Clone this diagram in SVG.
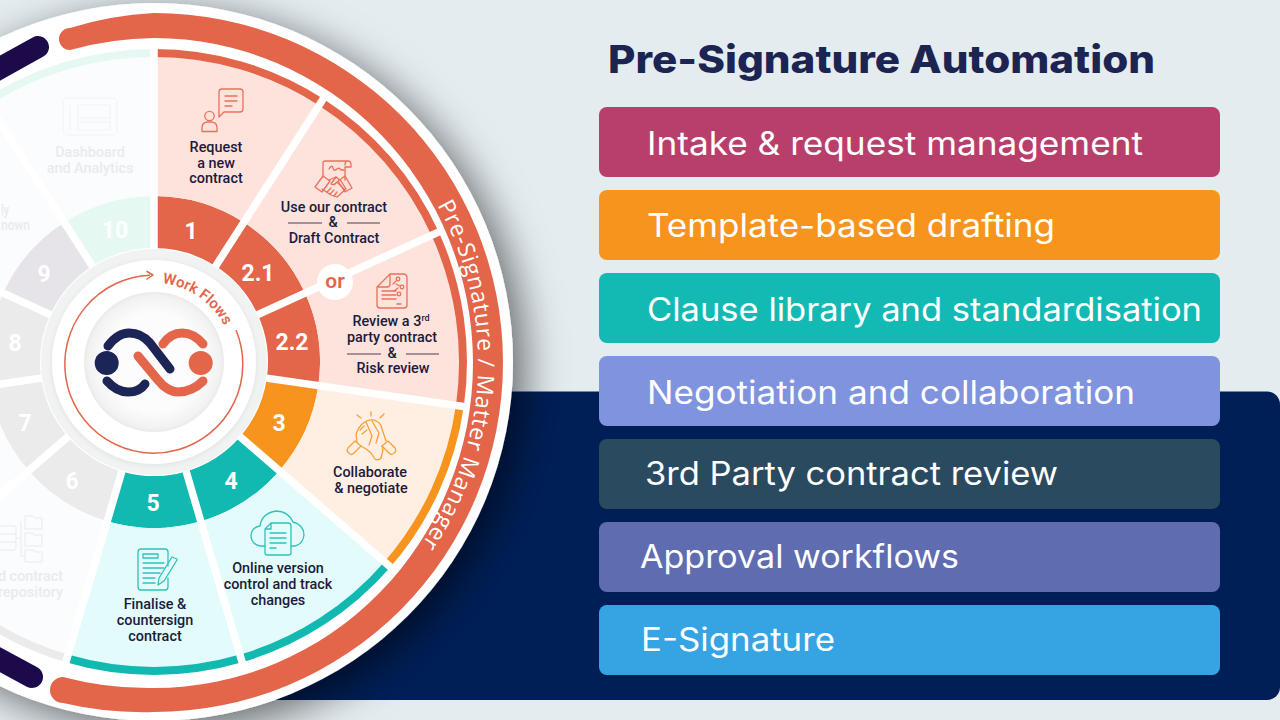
<svg xmlns="http://www.w3.org/2000/svg" width="1280" height="720" viewBox="0 0 1280 720">
<style>
.lbl{font-family:"Roboto","Liberation Sans",sans-serif;font-size:14.4px;font-weight:500;fill:#1c1b3c;text-anchor:middle}
.ghost{font-family:"Roboto","Liberation Sans",sans-serif;font-size:14.4px;font-weight:500;fill:#e9ebee}
.num{font-family:"Roboto","Liberation Sans",sans-serif;font-size:23px;font-weight:700;fill:#fff;text-anchor:middle}
.card{font-family:"Inter","Liberation Sans",sans-serif;font-size:32px;font-weight:400;fill:#fff}
.title{font-family:"Inter","Liberation Sans",sans-serif;font-size:38px;font-weight:800;fill:#1c2452}
.r{fill:#e3654a}.rl{fill:#fee2dc}
.o{fill:#f7941e}.ol{fill:#ffefe3}
.t{fill:#12b9b1}.tl{fill:#e3fbfb}
.g{fill:#ebebec}.gl{fill:#fbfcfd}.gm{fill:#e6e4e9}.gn{fill:#e6f8f2}
.ic{fill:none;stroke-width:1.3;stroke-linecap:round;stroke-linejoin:round}
.icr{stroke:#e9715a}.ico{stroke:#f7a03a}.ict{stroke:#30c2bb}.icg{stroke:#f0f8f6}.icy{stroke:#eeeff1}
.rule{stroke:#4a3f55;stroke-width:1.2}
.spoke{stroke:#fff;stroke-width:7.5}
</style>
<defs>
<filter id="wheelShadow" x="-20%" y="-20%" width="140%" height="140%"><feDropShadow dx="12" dy="10" stdDeviation="20" flood-color="#000" flood-opacity="0.55"/></filter>
<filter id="soft" x="-20%" y="-20%" width="140%" height="140%"><feDropShadow dx="0" dy="1" stdDeviation="2.500" flood-color="#000" flood-opacity="0.08"/></filter>
<radialGradient id="hub"><stop offset="0.7" stop-color="#fcfcfc"/><stop offset="0.94" stop-color="#f2f2f2"/><stop offset="1" stop-color="#eaeaea"/></radialGradient>
<path id="ringText" d="M437.3 205 A323 323 0 0 1 419.6 547.3"/>
<path id="flowText" d="M162.300 283.400 A79 79 0 0 1 233 362"/>
</defs>

<rect width="1280" height="720" fill="#e4ecf0"/>
<rect x="200" y="391.500" width="1080" height="308.500" rx="13" fill="#001f57"/>

<g id="wheel">
<circle cx="154" cy="362" r="359" fill="#fff" filter="url(#wheelShadow)"/>
<path d="M70 28 A340 340 0 0 1 154 13 A349 349.500 0 0 1 503 362.500 A349 349.500 0 0 1 154 712 A350 350 0 0 1 63 703 A13 13 0 0 1 63 677 A328 328 0 0 0 154 688 A319 325 0 0 0 473 363 A319 325 0 0 0 154 38 A328 328 0 0 0 70 50 A11 11 0 0 1 70 28 Z" fill="#e3654a"/>
<path d="M-5 71 L38 47 M-5 657 L32 677" stroke="#1c0a4a" stroke-width="22" stroke-linecap="round" fill="none"/>
</g>

<g id="node-1" transform="translate(154 362)">
<path class="r" d="M0 -114V-166A166 166 0 0 1 89.700 -139.700L61.600 -95.900A114 114 0 0 0 0 -114Z"/>
<path class="rl" d="M0 -166V-305A305 305 0 0 1 164.900 -256.600L89.700 -139.700A166 166 0 0 0 0 -166Z"/>
<path class="r" d="M0 -305V-313A313 313 0 0 1 169.200 -263.300L164.900 -256.600A305 305 0 0 0 0 -305Z"/>
</g>
<g id="node-2-1" transform="translate(154 362)">
<path class="r" d="M61.600 -95.900L89.700 -139.700A166 166 0 0 1 151 -69L103.700 -47.400A114 114 0 0 0 61.600 -95.900Z"/>
<path class="rl" d="M89.700 -139.700L164.900 -256.600A305 305 0 0 1 277.400 -126.700L151 -69A166 166 0 0 0 89.700 -139.700Z"/>
<path class="r" d="M164.900 -256.600L169.200 -263.300A313 313 0 0 1 284.700 -130L277.400 -126.700A305 305 0 0 0 164.900 -256.600Z"/>
</g>
<g id="node-2-2" transform="translate(154 362)">
<path class="r" d="M103.700 -47.400L151 -69A166 166 0 0 1 164.300 23.600L112.800 16.200A114 114 0 0 0 103.700 -47.400Z"/>
<path class="rl" d="M151 -69L277.400 -126.700A305 305 0 0 1 301.900 43.400L164.300 23.600A166 166 0 0 0 151 -69Z"/>
<path class="r" d="M277.400 -126.700L284.700 -130A313 313 0 0 1 309.800 44.500L301.900 43.400A305 305 0 0 0 277.400 -126.700Z"/>
</g>
<g id="node-3" transform="translate(154 362)">
<path class="o" d="M112.800 16.200L164.300 23.600A166 166 0 0 1 125.400 108.700L86.100 74.700A114 114 0 0 0 112.800 16.200Z"/>
<path class="ol" d="M164.300 23.600L301.900 43.400A305 305 0 0 1 230.500 199.700L125.400 108.700A166 166 0 0 0 164.300 23.600Z"/>
<path class="o" d="M301.900 43.400L309.800 44.500A313 313 0 0 1 236.500 205L230.500 199.700A305 305 0 0 0 301.900 43.400Z"/>
</g>
<g id="node-4" transform="translate(154 362)">
<path class="t" d="M86.100 74.700L125.400 108.700A166 166 0 0 1 46.800 159.300L32.100 109.400A114 114 0 0 0 86.100 74.700Z"/>
<path class="tl" d="M125.400 108.700L230.500 199.700A305 305 0 0 1 85.900 292.600L46.800 159.300A166 166 0 0 0 125.400 108.700Z"/>
<path class="t" d="M230.500 199.700L236.500 205A313 313 0 0 1 88.200 300.300L85.900 292.600A305 305 0 0 0 230.500 199.700Z"/>
</g>
<g id="node-5" transform="translate(154 362)">
<path class="t" d="M32.100 109.400L46.800 159.300A166 166 0 0 1 -46.800 159.300L-32.100 109.400A114 114 0 0 0 32.100 109.400Z"/>
<path class="tl" d="M46.800 159.300L85.900 292.600A305 305 0 0 1 -85.900 292.600L-46.800 159.300A166 166 0 0 0 46.800 159.300Z"/>
<path class="t" d="M85.900 292.600L88.200 300.300A313 313 0 0 1 -88.200 300.300L-85.900 292.600A305 305 0 0 0 85.900 292.600Z"/>
</g>
<g id="node-6" transform="translate(154 362)">
<path class="g" d="M-32.100 109.400L-46.800 159.300A166 166 0 0 1 -125.400 108.700L-86.100 74.700A114 114 0 0 0 -32.100 109.400Z"/>
<path class="gl" d="M-46.800 159.300L-85.900 292.600A305 305 0 0 1 -230.500 199.700L-125.400 108.700A166 166 0 0 0 -46.800 159.300Z"/>
<path class="g" d="M-85.900 292.600L-88.200 300.300A313 313 0 0 1 -236.500 205L-230.500 199.700A305 305 0 0 0 -85.900 292.600Z"/>
</g>
<g id="node-7" transform="translate(154 362)">
<path class="g" d="M-86.100 74.700L-125.400 108.700A166 166 0 0 1 -164.300 23.600L-112.800 16.200A114 114 0 0 0 -86.100 74.700Z"/>
<path class="gl" d="M-125.400 108.700L-230.500 199.700A305 305 0 0 1 -301.900 43.400L-164.300 23.600A166 166 0 0 0 -125.400 108.700Z"/>
</g>
<g id="node-8" transform="translate(154 362)">
<path class="g" d="M-112.800 16.200L-164.300 23.600A166 166 0 0 1 -151 -69L-103.700 -47.400A114 114 0 0 0 -112.800 16.200Z"/>
<path class="gl" d="M-164.300 23.600L-301.900 43.400A305 305 0 0 1 -277.400 -126.700L-151 -69A166 166 0 0 0 -164.300 23.600Z"/>
</g>
<g id="node-9" transform="translate(154 362)">
<path class="gm" d="M-103.700 -47.400L-151 -69A166 166 0 0 1 -89.700 -139.700L-61.600 -95.900A114 114 0 0 0 -103.700 -47.400Z"/>
<path class="gl" d="M-151 -69L-277.400 -126.700A305 305 0 0 1 -164.900 -256.600L-89.700 -139.700A166 166 0 0 0 -151 -69Z"/>
</g>
<g id="node-10" transform="translate(154 362)">
<path class="gn" d="M-61.600 -95.900L-89.700 -139.700A166 166 0 0 1 0 -166V-114A114 114 0 0 0 -61.600 -95.900Z"/>
<path class="gl" d="M-89.700 -139.700L-164.900 -256.600A305 305 0 0 1 0 -305V-166A166 166 0 0 0 -89.700 -139.700Z"/>
<path class="gn" d="M-164.900 -256.600L-169.200 -263.300A313 313 0 0 1 0 -313V-305A305 305 0 0 0 -164.900 -256.600Z"/>
</g>

<g id="connectors">
<g class="spoke" transform="translate(154 362)">
<line x1="0" y1="-105" x2="0" y2="-318"/>
<line x1="56.800" y1="-88.300" x2="172" y2="-267.500"/>
<line x1="95.500" y1="-43.600" x2="289.300" y2="-132.100"/>
<line x1="103.900" y1="14.900" x2="314.800" y2="45.200"/>
<line x1="79.300" y1="68.800" x2="240.300" y2="208.300"/>
<line x1="29.600" y1="100.700" x2="89.600" y2="305.100"/>
<line x1="-29.600" y1="100.700" x2="-89.600" y2="305.100"/>
<line x1="-79.300" y1="68.800" x2="-240.300" y2="208.300"/>
<line x1="-103.900" y1="14.900" x2="-314.800" y2="45.200"/>
<line x1="-95.500" y1="-43.600" x2="-289.300" y2="-132.100"/>
<line x1="-56.800" y1="-88.300" x2="-172" y2="-267.500"/>
</g>
</g>

<g id="hub-logo">
<circle cx="154" cy="362" r="113" fill="#f1f2f2"/>
<circle cx="154" cy="362" r="102" fill="#fff" filter="url(#soft)"/>
<circle cx="154" cy="362" r="70" fill="url(#hub)"/>
<path d="M150 275.200 A89 89 0 1 0 236 330" fill="none" stroke="#e3654a" stroke-width="1.500"/>
<path d="M147 271.500 L153 275 L147 279" fill="none" stroke="#e3654a" stroke-width="1.500" stroke-linecap="round" stroke-linejoin="round"/>
<text font-family="Roboto,'Liberation Sans',sans-serif" font-size="15" font-weight="600" fill="#e3654a"><textPath href="#flowText">Work Flows</textPath></text>
<circle cx="106.700" cy="363" r="12" fill="#1d2456"/>
<circle cx="200.700" cy="363" r="12" fill="#e3654a"/>
<g fill="none" stroke-width="9" stroke-linecap="round">
<path d="M108 346 C114 338 122 333 129 333 C138 333 144 336 150 343 L170 369" stroke="#1d2456"/>
<path d="M107 381 C114 389 122 392 128 392 C135 392 141 390 145 384" stroke="#1d2456"/>
<path d="M163 344 C168 337 175 333 182 333 C190 333 197 337 203 344" stroke="#e3654a"/>
<path d="M138 356 L158 380 C164 388 172 392 178 392 C188 392 196 388 203 381" stroke="#e3654a"/>
</g>
</g>

<g id="ring-label">
<text font-family="'Open Sans','Noto Sans',sans-serif" font-size="23" fill="#fff"><textPath href="#ringText" letter-spacing="0.6"><tspan font-weight="500">Pre-Signature</tspan><tspan font-weight="400"> / Matter Manager</tspan></textPath></text>
</g>

<g id="label-1">
<text class="num" x="191" y="239">1</text>
<g class="ic icr">
<path d="M222 89 H240 Q243 89 243 92 V109 Q243 112 240 112 H224 L219 117 V92 Q219 89 222 89Z"/>
<path d="M225 96H237M225 101H237M225 106H232"/>
<circle cx="209.500" cy="116" r="4.700"/>
<path d="M202 131.500 V128 Q202 122 208 122 H211 Q217 122 217 128 V131.500Z"/>
</g>
<text class="lbl" x="216" y="152">Request</text>
<text class="lbl" x="216" y="168">a new</text>
<text class="lbl" x="216" y="183">contract</text>
</g>

<g id="label-2-1">
<text class="num" x="258" y="281">2.1</text>
<g class="ic icr">
<path d="M323 177 V163 Q323 161 325 161 H348 Q351 161 351 165 V167 H345 V180 M345 165 Q345 161 348 161"/>
<path d="M329 169 Q332 164 333 168 Q334 172 337 169 Q339 167 341 170 H344"/>
<path d="M315 187 L323 176 L330 181 L322 192Z M352 188 L345 176 L338 181 L345 192Z"/>
<path d="M329 180 L336 177 L341 181 L346 189 L337 197 L331 195 L322 189"/>
<path d="M336 177 L331 184 Q334 186 337 182 L345 190 M327 192 L331 188 M330 194 L334 190 M334 196 L337 192"/>
</g>
<text class="lbl" x="334" y="212">Use our contract</text>
<text class="lbl" x="333" y="227">&amp;</text>
<line class="rule" x1="288" y1="223" x2="322" y2="223"/>
<line class="rule" x1="347" y1="223" x2="380" y2="223"/>
<text class="lbl" x="334" y="243">Draft Contract</text>
</g>

<g id="label-2-2">
<text class="num" x="292" y="350">2.2</text>
<g class="ic icr">
<path d="M390 274 H403 Q407 274 407 278 V305 Q407 308 404 308 H380 Q377 308 377 305 V287Z M390 274 V284 Q390 287 387 287 H377"/>
<path d="M382 291H396M382 295H396M382 299H396M397 304H401"/>
<circle cx="398" cy="279" r="1.800"/><circle cx="402" cy="287" r="1.800"/><circle cx="399" cy="294" r="1.800"/>
<path d="M396 284 L400 286 M398 288 L394 291 M396 281 L393 284"/>
</g>
<text class="lbl" x="391" y="326">Review a 3<tspan font-size="9" dy="-5">rd</tspan></text>
<text class="lbl" x="392" y="342">party contract</text>
<text class="lbl" x="392" y="358">&amp;</text>
<line class="rule" x1="347" y1="354" x2="381" y2="354"/>
<line class="rule" x1="406" y1="354" x2="439" y2="354"/>
<text class="lbl" x="393" y="373">Risk review</text>
</g>

<g id="or-label">
<circle cx="335" cy="282" r="18" fill="#fff"/>
<text x="335" y="288" text-anchor="middle" font-family="Roboto,'Liberation Sans',sans-serif" font-size="21" font-weight="600" fill="#e3654a">or</text>
</g>

<g id="label-3">
<text class="num" x="279" y="431">3</text>
<g class="ic ico">
<path d="M357 415 L361 418 M371 412 V416 M384 414 L380 418"/>
<path d="M348 448 L355 441 L361 446 L354 453 Q351 456 349 453 Q346 451 348 448Z M395 448 L388 441 L382 446 L389 453 Q392 456 394 453 Q397 451 395 448Z"/>
<path d="M357 442 L356 434 Q358 428 362 424 Q368 419 374 420 Q381 422 382 429 L386 441"/>
<path d="M361 446 Q367 449 371 453 L375 459 Q378 461 381 458 L383 450 L382 446"/>
<path d="M366 422 L372 436 L369 445 M372 421 L379 433 L376 443 M360 430 L364 426 M362 434 L367 430"/>
</g>
<text class="lbl" x="370" y="477">Collaborate</text>
<text class="lbl" x="371" y="493">&amp; negotiate</text>
</g>

<g id="label-4">
<text class="num" x="231" y="489">4</text>
<g class="ic ict">
<path d="M265 546 H260 Q251 544 251 535 Q252 527 260 526 Q262 513 276 511 Q288 511 293 522 Q304 525 304 535 Q303 544 295 546 H291"/>
<path d="M271 523 H288 Q291 523 291 526 V553 Q291 555 288 555 H268 Q265 555 265 553 V529Z M271 523 V529 H265"/>
<path d="M270 533H286M270 538H286M270 543H286M270 548H276"/>
</g>
<text class="lbl" x="278" y="573">Online version</text>
<text class="lbl" x="278" y="589">control and track</text>
<text class="lbl" x="278" y="605">changes</text>
</g>

<g id="label-5">
<text class="num" x="153" y="511">5</text>
<g class="ic ict">
<path d="M168 566 V552 Q168 549 165 549 H141 Q138 549 138 552 V587 Q138 590 141 590 H165 Q168 590 168 587 V578"/>
<path d="M143 554 H158 V558 H143Z M143 563H164M143 568H164M143 573H160M143 578H155M143 583H155"/>
<path d="M177 559 L172 557 L159 578 L158 585 L164 581 L177 560Z"/>
</g>
<text class="lbl" x="155" y="609">Finalise &amp;</text>
<text class="lbl" x="155" y="625">countersign</text>
<text class="lbl" x="155" y="641">contract</text>
</g>

<g id="label-ghost">
<text class="num" x="72" y="489">6</text>
<text class="num" x="25" y="431">7</text>
<text class="num" x="15" y="351">8</text>
<text class="num" x="44" y="282">9</text>
<text class="num" x="115" y="238">10</text>
<g class="ic icg">
<rect x="63" y="98" width="54" height="37" rx="4"/>
<path d="M70 106 V130 M78 105 H110 V118 H78Z M78 122 H110 V130 H78Z"/>
</g>
<text class="ghost" x="90" y="157" text-anchor="middle">Dashboard</text>
<text class="ghost" x="90" y="173" text-anchor="middle">and Analytics</text>
<text class="ghost" x="1" y="215" textLength="8" lengthAdjust="spacingAndGlyphs">ly</text>
<text class="ghost" x="1" y="230" textLength="29" lengthAdjust="spacingAndGlyphs">nown</text>
<g class="ic icy">
<path d="M0 526 H14 Q16 526 16 530 V546 Q16 550 14 550 H0 M0 534 H16 M0 542 H16 M16 538 H21 M21 522 V556 H25"/>
<path d="M25 522 V516 H33 L35 518 H42 V529 H25Z M25 533 H33 L35 535 H42 V546 H25Z M25 550 H33 L35 552 H42 V562 H25Z"/>
</g>
<text class="ghost" x="63" y="581" text-anchor="end">d contract</text>
<text class="ghost" x="63" y="597" text-anchor="end">repository</text>
</g>

<text id="title" class="title" x="608" y="73" textLength="547" lengthAdjust="spacingAndGlyphs">Pre-Signature Automation</text>

<g id="card-1"><rect x="599" y="107" width="621" height="70" rx="8" fill="#b83f6b"/><text class="card" x="647" y="155" textLength="496" lengthAdjust="spacingAndGlyphs">Intake &amp; request management</text></g>
<g id="card-2"><rect x="599" y="190" width="621" height="70" rx="8" fill="#f7941e"/><text class="card" x="647" y="237" textLength="408" lengthAdjust="spacingAndGlyphs">Template-based drafting</text></g>
<g id="card-3"><rect x="599" y="273" width="621" height="70" rx="8" fill="#13bab4"/><text class="card" x="647" y="321" textLength="555" lengthAdjust="spacingAndGlyphs">Clause library and standardisation</text></g>
<g id="card-4"><rect x="599" y="356" width="621" height="70" rx="8" fill="#7f93de"/><text class="card" x="647" y="404" textLength="488" lengthAdjust="spacingAndGlyphs">Negotiation and collaboration</text></g>
<g id="card-5"><rect x="599" y="439" width="621" height="70" rx="8" fill="#2a4a5f"/><text class="card" x="645" y="485" textLength="413" lengthAdjust="spacingAndGlyphs">3rd Party contract review</text></g>
<g id="card-6"><rect x="599" y="522" width="621" height="70" rx="8" fill="#5f6cb0"/><text class="card" x="640" y="568" textLength="319" lengthAdjust="spacingAndGlyphs">Approval workflows</text></g>
<g id="card-7"><rect x="599" y="605" width="621" height="70" rx="8" fill="#36a3e2"/><text class="card" x="641" y="651" textLength="194" lengthAdjust="spacingAndGlyphs">E-Signature</text></g>
</svg>
